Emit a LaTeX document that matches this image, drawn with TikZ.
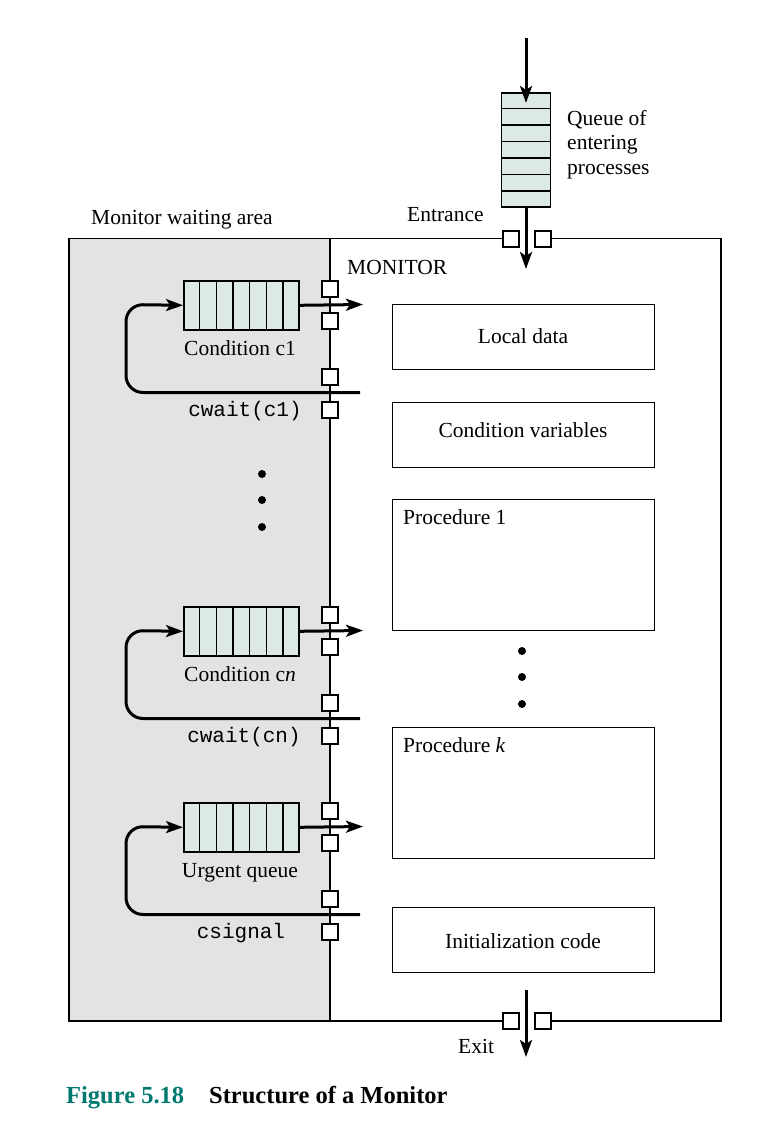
\documentclass[tikz,border=0pt]{standalone}
\usepackage{fontspec}
\setmainfont{Liberation Serif}
\setmonofont{Liberation Mono}
\usetikzlibrary{arrows.meta,calc}
\definecolor{qfill}{RGB}{220,233,230}
\definecolor{wgray}{RGB}{227,227,227}
\definecolor{figteal}{RGB}{0,122,112}
\begin{document}
\begin{tikzpicture}[x=1pt,y=-1pt,
  every node/.style={font=\fontsize{21.5}{25}\selectfont, inner sep=0pt},
  lbl/.style={anchor=base},
  lblw/.style={anchor=base west},
  mono/.style={anchor=base, font=\ttfamily\fontsize{21}{25}\selectfont},
  mbox/.style={draw, line width=1.4pt, minimum width=262pt, anchor=north west},
  sq/.style={draw, fill=white, line width=1.4pt, minimum size=16pt},
  qbox/.style={draw, fill=qfill, line width=1.6pt, minimum width=115pt, minimum height=49pt, anchor=north west},
  tqbox/.style={draw, fill=qfill, line width=1.6pt, minimum width=49pt, minimum height=114pt, anchor=north},
  qline/.style={line width=1.5pt},
  flow/.style={line width=3pt, -{Stealth[length=17pt,width=12pt,inset=4pt]}},
  dotn/.style={circle, fill, minimum size=8pt},
  capt/.style={anchor=base west, font=\bfseries\fontsize{24.5}{28}\selectfont}]
\useasboundingbox (0,0) rectangle (768,1124);

% waiting area and monitor frame
\fill[wgray] (69,238.5) rectangle (330,1021);
\draw[line width=1.4pt] (535,238.5) -- (721,238.5) -- (721,1021) -- (535,1021)
  (519,1021) -- (69,1021) -- (69,238.5) -- (519,238.5);
\draw[line width=1.4pt] (330,238.5) -- (330,1021);

% entering queue
\node[tqbox] (tq) at (526,92) {};
\foreach \k in {1,...,6}
  \draw[qline] ($(tq.north west)!\k/7!(tq.south west)$) -- ($(tq.north east)!\k/7!(tq.south east)$);
\coordinate (topin) at (526,38);
\coordinate (tqtip) at (526,103);
\draw[flow] (topin) -- (tqtip);
\node[sq] (es1) at (511,239) {};
\node[sq] (es2) at (543,239) {};
\coordinate (enttip) at (526,269);
\draw[flow] (tq.south) -- (enttip);

\node[lblw] (qt1) at (567,125) {Queue of};
\node[lblw] (qt2) at (567,149.5) {entering};
\node[lblw] (qt3) at (567,174) {processes};
\node[lblw] (entr) at (407,221) {Entrance};
\node[lblw] (mwa) at (91,224) {Monitor waiting area};
\node[lblw] (mon) at (347,274) {MONITOR};

% condition / urgent queues
\foreach \T/\lab/\cmd/\cx/\nm in {280/{Condition c1}/{cwait(c1)}/245/a,
                                  606/{Condition c\textit{n}}/{cwait(cn)}/244/b,
                                  802/{Urgent queue}/{csignal}/241/c}{
  \node[qbox] (q\nm) at (183,\T) {};
  \foreach \k in {1,...,6}
    \draw[qline] ($(q\nm.north west)!\k/7!(q\nm.north east)$) -- ($(q\nm.south west)!\k/7!(q\nm.south east)$);
  \node[sq] (s\nm1) at (330,\T+9) {};
  \node[sq] (s\nm2) at (330,\T+41) {};
  \node[sq] (s\nm3) at (330,\T+97) {};
  \node[sq] (s\nm4) at (330,\T+130) {};
  \coordinate (o\nm) at (363,\T+24.5);
  \draw[flow] (q\nm.east) -- (o\nm);
  \coordinate (l\nm) at (360,\T+112.5);
  \draw[flow, rounded corners=17pt] (l\nm) -- (126,\T+112.5) -- (126,\T+24.5) -- (q\nm.west);
  \node[lbl] (lab\nm) at (240,\T+75) {\lab};
  \node[mono] (cmd\nm) at (\cx,\T+136) {\cmd};
}

% dots
\node[dotn] (dl1) at (262,474) {};
\node[dotn] (dl2) at (262,500) {};
\node[dotn] (dl3) at (262,527) {};
\node[dotn] (dr1) at (522,651) {};
\node[dotn] (dr2) at (522,677) {};
\node[dotn] (dr3) at (522,704) {};

% monitor components
\node[mbox, minimum height=65pt] (ld) at (392,304) {};
\node[lbl] (ldt) at (523,343) {Local data};
\node[mbox, minimum height=65pt] (cv) at (392,402) {};
\node[lbl] (cvt) at (523,437) {Condition variables};
\node[mbox, minimum height=131pt] (p1) at (392,499) {};
\node[lblw] (p1t) at (403,524) {Procedure 1};
\node[mbox, minimum height=131pt] (pk) at (392,727) {};
\node[lblw] (pkt) at (403,752) {Procedure \textit{k}};
\node[mbox, minimum height=65pt] (ic) at (392,907) {};
\node[lbl] (ict) at (523,948) {Initialization code};

% exit
\node[sq] (xs1) at (511,1021) {};
\node[sq] (xs2) at (543,1021) {};
\coordinate (exst) at (526,990);
\coordinate (exend) at (526,1057);
\draw[flow] (exst) -- (exend);
\node[lblw] (exitt) at (458,1053) {Exit};

% caption
\node[capt, text=figteal] (fig) at (66,1103) {Figure 5.18};
\node[capt] (figt) at (209,1103) {Structure of a Monitor};
\end{tikzpicture}
\end{document}
